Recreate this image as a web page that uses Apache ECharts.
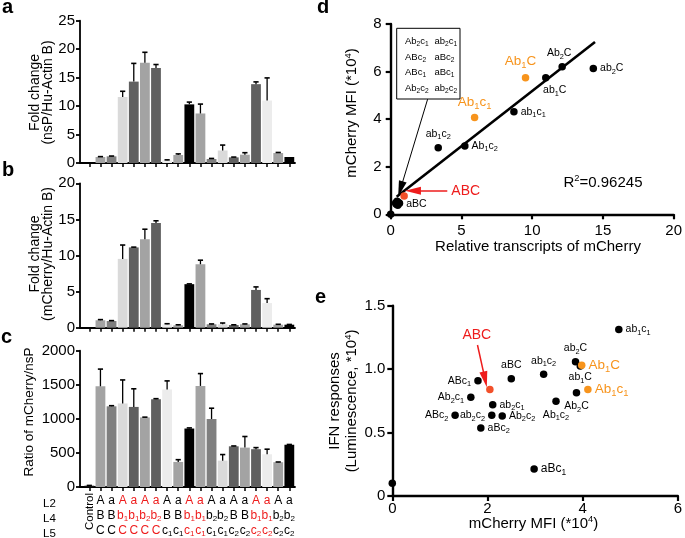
<!DOCTYPE html>
<html><head><meta charset="utf-8">
<script src="https://cdn.jsdelivr.net/npm/echarts@6/dist/echarts.min.js"></script>
<style>html,body{margin:0;padding:0;background:#fff}#c{width:685px;height:538px}</style>
</head><body><div id="c"></div>
<script>
const FONT = "'Liberation Sans', Arial, Helvetica, sans-serif";

// ---------------- data: panels a-c ----------------
const categories = ['Control','ABC','aBC','Ab1C','ab1C','Ab2C','ab2C','ABc1','aBc1','Ab1c1','ab1c1','Ab2c1','ab2c1','ABc2','aBc2','Ab1c2','ab1c2','Ab2c2','ab2c2'];
const nsPFold      = [0, 1.05, 1.17, 11.6, 14.3, 17.6, 16.7, 0.47, 1.4, 10.3, 8.7, 0.7, 2.2, 0.99, 1.46, 13.85, 10.98, 1.75, 1.05];
const nsPFoldSem   = [0, 0.07, 0.05, 1.0, 3.2, 1.85, 0.6, 0.08, 0.2, 0.4, 1.65, 0.1, 0.95, 0.05, 0.35, 0.4, 3.97, 0.1, 0];
const mChFold      = [0, 1.03, 0.93, 9.53, 11.12, 12.24, 14.49, 0.47, 0.33, 6.03, 8.79, 0.47, 0.47, 0.37, 0.47, 5.23, 3.41, 0.42, 0.42];
const mChFoldSem   = [0, 0.09, 0.05, 1.92, 0.04, 1.4, 0.32, 0.08, 0.07, 0.04, 0.56, 0.05, 0.18, 0.03, 0.05, 0.42, 0.61, 0.05, 0.03];
const ratioMChNsP  = [19, 1478, 1184, 1226, 1175, 1021, 1287, 1431, 368, 858, 1483, 998, 387, 597, 578, 555, 480, 364, 620];
const ratioSem     = [4, 252, 9, 345, 266, 4, 9, 126, 33, 9, 181, 158, 89, 5, 163, 23, 75, 3, 4];
const rowL2 = ['', 'A','a','A','a','A','a','A','a','A','a','A','a','A','a','A','a','A','a'];
const rowL4 = ['', 'B','B','b1','b1','b2','b2','B','B','b1','b1','b2','b2','B','B','b1','b1','b2','b2'];
const rowL5 = ['', 'C','C','C','C','C','C','c1','c1','c1','c1','c1','c1','c2','c2','c2','c2','c2','c2'];
const redCats = [3,4,5,6,9,10,15,16];
const rowNames = ['L2','L4','L5'];

// ---------------- data: panel d ----------------
const dNames       = ['Control','ab2C','Ab2C','ab1C','Ab1C','ab1c1','Ab1c1','Ab1c2','ab1c2','aBC','Ab2c1','ab2c1','ABc2','aBc2','ABc1','aBc1','Ab2c2','ab2c2','ABC'];
const dTranscripts = [0, 14.32, 12.12, 10.96, 9.53, 8.71, 5.93, 5.24, 3.36, 0.62, 0.45, 0.5, 0.4, 0.55, 0.35, 0.5, 0.45, 0.4, 0.95];
const dMFI         = [0, 6.13, 6.2, 5.74, 5.74, 4.31, 4.07, 2.87, 2.80, 0.46, 0.5, 0.45, 0.42, 0.5, 0.48, 0.38, 0.55, 0.45, 0.77];
const dFitSlope = 0.464, dFitIntercept = 0.545, dFitRange = [0.42, 14.44];
const dR2 = '0.96245';
const dBoxPairs = [['Ab2c1','ab2c1'],['ABc2','aBc2'],['ABc1','aBc1'],['Ab2c2','ab2c2']];

// ---------------- data: panel e ----------------
const eNames = ['Control','ab1c1','ab2C','ab1C','Ab1C','Ab1c1','Ab2C','Ab1c2','ab1c2','aBC','ABc1','Ab2c1','ab2c1','ABc2','ab2c2','Ab2c2','aBc2','aBc1','ABC'];
const eMFI   = [0, 4.76, 3.85, 3.95, 3.98, 4.11, 3.87, 3.44, 3.18, 2.50, 1.80, 1.65, 2.11, 1.32, 2.09, 2.31, 1.86, 2.98, 2.05];
const eIFN   = [0.1, 1.313, 1.058, 1.024, 1.03, 0.84, 0.814, 0.746, 0.959, 0.924, 0.909, 0.778, 0.72, 0.636, 0.636, 0.63, 0.536, 0.213, 0.84];

// ---------------- styles ----------------
const barColors = ['#111','#a3a3a3','#7f7f7f','#dadada','#606060','#a3a3a3','#606060','#ececec','#a3a3a3','#000','#a3a3a3','#7f7f7f','#dadada','#606060','#a3a3a3','#606060','#ececec','#a3a3a3','#000'];
const RED = '#ee1c1c', ORANGE = '#f7941d', ABCDOT = '#f2502a';
const pointColor = n => n === 'ABC' ? ABCDOT : (n === 'Ab1C' || n === 'Ab1c1') ? ORANGE : '#000';

const dPlace = {
  ab2C:{position:'right'}, Ab2C:{position:'top', offset:[-3,0]}, ab1C:{position:'bottom', offset:[9,-1]},
  Ab1C:{position:'top', offset:[-5,-1], big:true}, ab1c1:{position:'right'}, Ab1c1:{position:'top', big:true},
  Ab1c2:{position:'right'}, ab1c2:{position:'top'}, aBC:{position:'right', offset:[0,1]}
};
const ePlace = {
  ab1c1:{position:'right'}, ab2C:{position:'top'}, ab1C:{position:'bottom', distance:1}, Ab1C:{position:'right', big:true},
  Ab1c1:{position:'right', big:true}, Ab2C:{position:'bottom'}, Ab1c2:{position:'bottom'}, ab1c2:{position:'top'},
  aBC:{position:'top'}, ABc1:{position:'left'}, Ab2c1:{position:'left'}, ab2c1:{position:'right'}, ABc2:{position:'left'},
  ab2c2:{position:'left'}, Ab2c2:{position:'right'}, aBc2:{position:'right'}, aBc1:{position:'right', mid:true}
};

function richName(name, m, s) {
  return name.replace(/([A-Za-z]+)|(\d+)/g, (x, a, d) => a ? `{${m}|${a}}` : `{${s}|${d}}`);
}
function ptRich(color, size) {
  return {
    m: {color, fontSize:size, fontFamily:FONT, lineHeight:size+3},
    s: {color, fontSize:size*0.7, fontFamily:FONT, lineHeight:size*0.7, verticalAlign:'bottom'}
  };
}
function makeLabel(place, name) {
  if (!place) return {show:false};
  const size = place.big ? 13.5 : (place.mid ? 12 : 10.5);
  return {show:true, position:place.position, offset:place.offset || [0,0], distance: place.distance ?? 3,
    formatter: richName(name, 'm', 's'), rich: ptRich(pointColor(name), size)};
}

// ---------------- helpers for bar panels ----------------
const tickIdx = categories.map((_, i) => i);
function barXAxis(grid, labelCfg) {
  return {type:'value', gridIndex:grid, min:-0.84, max:18.51, position:'bottom',
    axisLine:{show:true, onZero:false, lineStyle:{color:'#000', width:1.8}},
    axisTick:{show:true, customValues:tickIdx, length:4, lineStyle:{color:'#000', width:1.5}},
    axisLabel: labelCfg || {show:false}, splitLine:{show:false}};
}
function barYAxis(grid, max, interval) {
  return {type:'value', gridIndex:grid, min:0, max, interval,
    axisLine:{show:true, onZero:false, lineStyle:{color:'#000', width:1.8}},
    axisTick:{show:true, length:4, lineStyle:{color:'#000', width:1.8}},
    axisLabel:{color:'#000', fontSize:15, fontFamily:FONT, margin:5, formatter:v => String(v)}, splitLine:{show:false}};
}
function barSeries(ax, vals) {
  return {type:'bar', xAxisIndex:ax, yAxisIndex:ax, barWidth:9.8, silent:true, z:2,
    data: vals.map((v, i) => ({value:[i, v], itemStyle:{color:barColors[i]}}))};
}
function errSeries(ax, vals, sems) {
  return {type:'custom', xAxisIndex:ax, yAxisIndex:ax, silent:true, z:3,
    data: vals.map((v, i) => [i, v, v + sems[i]]),
    encode:{x:0, y:[1,2]},
    renderItem(params, api) {
      if (api.value(2) - api.value(1) <= 0) return null;
      const lo = api.coord([api.value(0), api.value(1)]);
      const hi = api.coord([api.value(0), api.value(2)]);
      const w = 2.6;
      return {type:'group', children:[
        {type:'line', shape:{x1:lo[0], y1:lo[1], x2:hi[0], y2:hi[1]}, style:{stroke:'#000', lineWidth:1.3}},
        {type:'line', shape:{x1:hi[0]-w, y1:hi[1], x2:hi[0]+w, y2:hi[1]}, style:{stroke:'#000', lineWidth:1.6}}
      ]};
    }};
}

// category labels (panel c)
function catTok(t, red) {
  const k = red ? 'r' : 'k';
  return richName(t, k, k + 's');
}
function catLabel(v) {
  const i = Math.round(v);
  const red = redCats.includes(i);
  return [rowL2[i], rowL4[i], rowL5[i]].map(t => catTok(t, red)).join('\n');
}
const catRich = {
  k:  {color:'#000', fontSize:12, fontFamily:FONT, lineHeight:15, align:'center'},
  ks: {color:'#000', fontSize:8, fontFamily:FONT, lineHeight:9, verticalAlign:'bottom', align:'center'},
  r:  {color:RED, fontSize:12, fontFamily:FONT, lineHeight:15, align:'center'},
  rs: {color:RED, fontSize:8, fontFamily:FONT, lineHeight:9, verticalAlign:'bottom', align:'center'}
};

// scatter axes
function scAxis(grid, min, max, interval, fmt, margin) {
  return {type:'value', gridIndex:grid, min, max, interval,
    axisLine:{show:true, onZero:false, lineStyle:{color:'#000', width:2.4}},
    axisTick:{show:true, length:5, lineStyle:{color:'#000', width:2.2}},
    axisLabel:{color:'#000', fontSize:15, fontFamily:FONT, margin, formatter:fmt || (v => String(v))}, splitLine:{show:false}};
}

// ---------------- text helpers for graphic ----------------
const titleRich = (size) => ({
  t:  {fontSize:size, fontFamily:FONT, fill:'#000', color:'#000', lineHeight:size+2},
  sp: {fontSize:size*0.62, fontFamily:FONT, fill:'#000', color:'#000', lineHeight:size*0.62, verticalAlign:'top'}
});
function gText(x, y, text, opts = {}) {
  return {type:'text', x, y, rotation: opts.rot || 0, silent:true, z:50,
    style:{text, fill: opts.color || '#000', fontSize: opts.size || 14, fontFamily: FONT, fontWeight: opts.weight || 'normal',
      textAlign: opts.align || 'center', align: opts.align || 'center',
      textVerticalAlign: opts.valign || 'middle', verticalAlign: opts.valign || 'middle',
      lineHeight: opts.lh, rich: opts.rich}};
}

const graphics = [];
// panel letters
[['a',2,17],['b',2,180],['c',1,347],['d',317,17],['e',315,307]].forEach(([t,x,y]) =>
  graphics.push(gText(x, y, t, {size:20, weight:'bold', align:'left', valign:'bottom'})));
// bar-panel axis titles
graphics.push(gText(41.5, 92.5, 'Fold change\n(nsP/Hu-Actin B)', {size:14, rot:Math.PI/2, lh:12.5}));
graphics.push(gText(41.5, 254, 'Fold change\n(mCherry/Hu-Actin B)', {size:14, rot:Math.PI/2, lh:12.5}));
graphics.push(gText(29.5, 412, 'Ratio of mCherry/nsP', {size:13.5, rot:Math.PI/2}));
rowNames.forEach((t, i) => graphics.push(gText(43, 504 + i*14.7, t, {size:11.5, align:'left'})));
// panel d titles
graphics.push(gText(352, 113, '{t|mCherry MFI (*10}{sp|4}{t|)}', {rot:Math.PI/2, rich:titleRich(15)}));
graphics.push(gText(538, 246.5, 'Relative transcripts of mCherry', {size:15}));
graphics.push(gText(563.5, 182.7, '{t|R}{sp|2}{t|=' + dR2 + '}', {align:'left', rich:titleRich(15)}));
// panel d legend box
graphics.push({type:'rect', silent:true, z:50, shape:{x:396.7, y:28.3, width:63.3, height:70.7},
  style:{fill:'rgba(0,0,0,0)', stroke:'#000', lineWidth:1}});
const boxRich = ptRich('#000', 9.5);
dBoxPairs.forEach((pair, r) => {
  graphics.push(gText(405, 41.8 + r*15.5, richName(pair[0], 'm', 's'), {align:'left', rich:boxRich}));
  graphics.push(gText(434.5, 41.8 + r*15.5, richName(pair[1], 'm', 's'), {align:'left', rich:boxRich}));
});
// panel e titles
graphics.push(gText(343.5, 401, '{t|IFN responses}\n{t|(Luminescence, *10}{sp|4}{t|)}', {rot:Math.PI/2, rich:titleRich(15)}));
graphics.push(gText(533.5, 523.5, '{t|mCherry MFI (*10}{sp|4}{t|)}', {rich:titleRich(15)}));

// ---------------- option ----------------
const option = {
  animation:false,
  backgroundColor:'#fff',
  textStyle:{fontFamily:FONT},
  grid:[
    {left:80, top:20.7, width:215, height:142.3},
    {left:80, top:183.3, width:215, height:144.4},
    {left:80, top:350.7, width:215, height:142.6},
    {left:390.7, top:24, width:287.6, height:190.3},
    {left:392.3, top:305.7, width:287.7, height:190.3}
  ],
  xAxis:[
    barXAxis(0),
    barXAxis(1),
    barXAxis(2, {show:true, customValues:tickIdx.slice(1), formatter:catLabel, rich:catRich, margin:6, verticalAlign:'top'}),
    {type:'value', gridIndex:2, min:-0.84, max:18.51, position:'bottom', axisLine:{show:false}, axisTick:{show:false}, splitLine:{show:false},
      axisLabel:{show:true, customValues:[0], rotate:90, formatter:() => categories[0], color:'#000', fontSize:11.5, fontFamily:FONT, margin:6}},
    scAxis(3, 0, 20, 5, null, 9),
    scAxis(4, 0, 6, 2, null, 5)
  ],
  yAxis:[
    barYAxis(0, 25, 5),
    barYAxis(1, 20, 5),
    barYAxis(2, 2000, 500),
    scAxis(3, 0, 8, 2, null, 9),
    scAxis(4, 0, 1.5, 0.5, v => v === 0 ? '0' : v.toFixed(1), 7)
  ],
  graphic:{elements:graphics},
  series:[
    barSeries(0, nsPFold), errSeries(0, nsPFold, nsPFoldSem),
    barSeries(1, mChFold), errSeries(1, mChFold, mChFoldSem),
    barSeries(2, ratioMChNsP), errSeries(2, ratioMChNsP, ratioSem),
    {type:'line', xAxisIndex:4, yAxisIndex:3, silent:true, z:2, symbol:'none',
      data: dFitRange.map(x => [x, dFitIntercept + dFitSlope * x]), lineStyle:{color:'#000', width:2.6}},
    {type:'scatter', xAxisIndex:4, yAxisIndex:3, silent:true, z:3, symbolSize:7.5,
      data: dNames.map((n, i) => ({value:[dTranscripts[i], dMFI[i]], itemStyle:{color:pointColor(n), opacity:1}, label:makeLabel(dPlace[n], n)})),
      markLine:{silent:true, symbol:['none','triangle'], precision:3, animation:false,
        data:[
          [{coord:[4.0, 0.99], symbolSize:[12,10], lineStyle:{color:RED, width:1.6, type:'solid'},
            label:{show:true, position:'start', formatter:'ABC', color:RED, fontSize:14, fontFamily:FONT, distance:4}},
           {coord:[1.57, 0.99]}],
          [{coord:[2.61, 4.84], symbolSize:[9,9], lineStyle:{color:'#000', width:1, type:'solid'}, label:{show:false}},
           {coord:[0.69, 1.06]}]
        ]}},
    {type:'scatter', xAxisIndex:5, yAxisIndex:4, silent:true, z:3, symbolSize:7.5,
      data: eNames.map((n, i) => ({value:[eMFI[i], eIFN[i]], itemStyle:{color:pointColor(n), opacity:1}, label:makeLabel(ePlace[n], n)})),
      markLine:{silent:true, symbol:['none','triangle'], precision:3, animation:false,
        data:[
          [{coord:[1.79, 1.19], symbolSize:[8,9], lineStyle:{color:RED, width:1.5, type:'solid'},
            label:{show:true, position:'start', formatter:'ABC', color:RED, fontSize:14, fontFamily:FONT, distance:3}},
           {coord:[1.95, 0.919]}]
        ]}}
  ]
};
const chart = echarts.init(document.getElementById('c'), null, {renderer:'canvas'});
chart.setOption(option);
</script></body></html>
